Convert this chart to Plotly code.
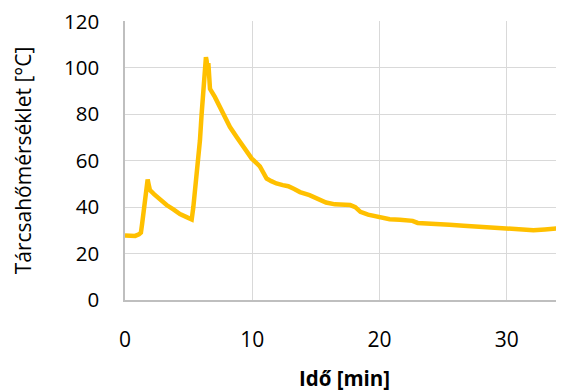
import plotly.graph_objects as go

time_min = [0, 0.4, 0.8, 1.1, 1.25, 1.35, 1.5, 1.65, 1.78, 1.85, 1.96, 2.3, 2.8, 3.27, 3.8, 4.32, 4.8, 5.24, 5.37, 5.5, 5.63, 5.76, 5.89, 6.02, 6.15, 6.3, 6.36, 6.42, 6.48, 6.55, 6.62, 6.68, 7.07, 7.6, 8.25, 8.8, 9.3, 9.95, 10.6, 10.87, 11.13, 11.5, 11.9, 12.4, 12.83, 13.3, 13.75, 14.5, 15.2, 15.8, 16.5, 17.2, 17.7, 18.1, 18.5, 19.1, 19.8, 20.8, 21.6, 22.6, 23.0, 23.4, 24.5, 25.5, 26.6, 27.6, 28.6, 29.7, 30.8, 32.1, 33.0, 33.9]
temp_c = [27.8, 27.5, 27.6, 28.3, 29.0, 33.0, 41.0, 48.0, 51.9, 50.0, 47.3, 45.5, 43.0, 40.9, 39.0, 37.0, 35.8, 34.7, 40.0, 47.0, 54.5, 62.4, 68.8, 80.0, 92.0, 100.0, 104.6, 103.0, 97.0, 102.0, 94.0, 91.0, 87.4, 81.7, 74.5, 70.0, 66.0, 61.0, 57.6, 54.5, 52.3, 51.2, 50.2, 49.5, 49.0, 47.8, 46.5, 45.2, 43.5, 42.0, 41.2, 41.0, 40.9, 40.0, 38.0, 36.8, 36.1, 34.8, 34.6, 34.1, 33.2, 33.0, 32.8, 32.4, 32.0, 31.7, 31.3, 30.8, 30.5, 30.1, 30.4, 30.8]

x_ticks = [0, 10, 20, 30]
y_ticks = [0, 20, 40, 60, 80, 100, 120]

fig = go.Figure()
fig.add_trace(go.Scatter(
    x=time_min, y=temp_c, mode="lines",
    line=dict(color="#FFC000", width=4.5),
    showlegend=False,
))

font_family = "'Open Sans', Carlito, Calibri, sans-serif"
fig.update_layout(
    width=556, height=384,
    margin=dict(l=117, r=0, t=13, b=92),
    paper_bgcolor="white", plot_bgcolor="white",
    font=dict(family=font_family, size=20, color="#000000"),
    xaxis=dict(
        range=[0, 34.5], tickvals=x_ticks, ticks="",
        showgrid=True, gridcolor="#D9D9D9", gridwidth=1.3,
        showline=True, linecolor="#BFBFBF", linewidth=1.5,
        zeroline=False,
        tickfont=dict(size=21),
        ticklabelstandoff=20,
        ticklabeloverflow="allow",
        title=dict(text="<b>Idő [min]</b>", font=dict(size=20.5), standoff=20),
    ),
    yaxis=dict(
        range=[0, 120.2], tickvals=y_ticks, ticks="",
        showgrid=True, gridcolor="#D9D9D9", gridwidth=1.3,
        showline=True, linecolor="#BFBFBF", linewidth=1.5,
        zeroline=False,
        tickfont=dict(size=20.5),
        ticklabelstandoff=20,
        ticklabeloverflow="allow",
        title=dict(text="Tárcsahőmérséklet [°C]", font=dict(size=21), standoff=27),
    ),
)

fig.write_html("out.html")
